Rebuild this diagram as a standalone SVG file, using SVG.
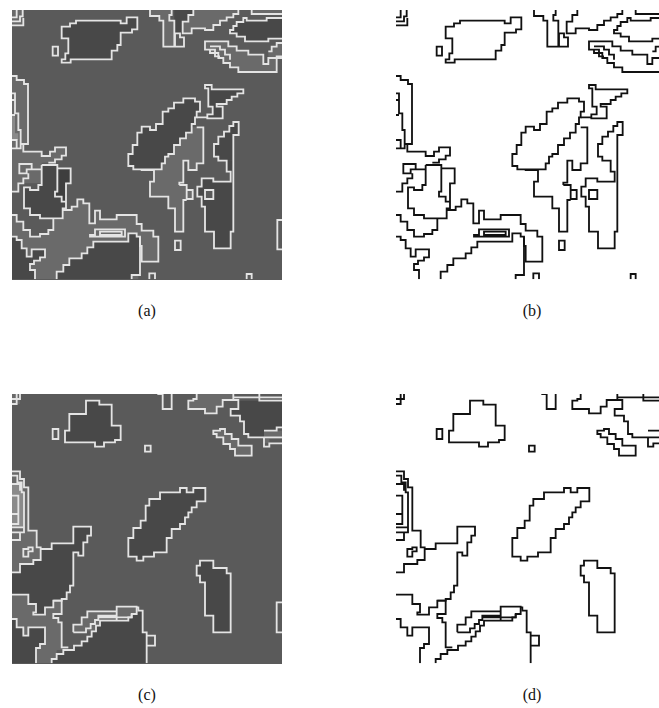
<svg xmlns="http://www.w3.org/2000/svg" width="659" height="708" viewBox="0 0 659 708">
<style>
.md{fill:#6a6a6a}
.lt{fill:#8a8a8a}
.bg{fill:#5a5a5a}
.dk{fill:#484848}
.dd{fill:#3e3e3e}
.wl{stroke:#e4e4e4;stroke-width:5.5;fill:none}
.kl{stroke:#111;stroke-width:5.5;fill:none}
text{font-family:"Liberation Serif","Times New Roman",serif;font-size:16px;text-anchor:middle;fill:#111}
</style>
<defs>
<clipPath id="clip"><rect x="36" y="30" width="810" height="808"/></clipPath>
<g id="a-fills">
<path class="md" d="M36 30H72V76H36Z"/>
<path class="dk" d="M185 80H210V70H228V62H362V70H380V52H412V88H396V98H362V135H352V152H335V178H212V188H185V178H196V160H205V115H185Z"/>
<path class="md" d="M425 510H462V545H450V590H505V625H525V695H550V600H580V570H560V555H538V548H550V482H565V510H590V490H610V382H575V398H540V435H505V470H485V508Z"/>
<path class="dk" d="M385 462H398V435H412V398H425V380H450V390H468V372H488V335H505V325H522V308H550V295H585V305H600V335H590V352H585V372H575V398H558V415H540V435H522V462H505V470H495V490H485V508H400V498H385Z"/>
<path class="dk" d="M615 255H635V268H730V280H712V290H695V300H680V312H650V320H668V355H622V343H638V320H625V265H615Z"/>
<path class="dk" d="M655 410H672V395H688V378H700V366H716V405H700V482H655V470H642V432H655Z"/>
<path class="dk" d="M605 535H640V545H692V515H680V482H700V695H692V745H642V695H615V620H605V590H592V560H605Z"/>
<path class="bg" d="M615 570H640V597H615Z"/>
<path class="md" d="M36 228H50V240H72V252H84V432H62V442H36Z"/>
<path class="lt" d="M36 345H45V400H55V420H36Z"/>
<path class="md" d="M36 445H62V432H70V455H125V468H150V455H165V442H198V467H185V478H165V488H125V550H55V575H36Z"/>
<path class="dk" d="M125 495H172V505H212V550H200V625H188V655H120V645H90V625H72V562H90V570H115V555H125Z"/>
<path class="dd" d="M178 510H208V545H198V605H185V590H165V575H178Z"/>
<path class="md" d="M58 492H95V508H80V520H58Z"/>
<path class="md" d="M36 645H50V665H70V690H90V710H120V702H145V690H160V660H188V630H215V620H232V598H250V610H268V670H285V632H300V658H350V645H410V672H425V692H460V710H475V785H425V738H415V838H105V810H90V792H36Z"/>
<path class="dk" d="M36 710H50V720H65V745H80V770H95V792H90V810H105V838H36Z"/>
<path class="dk" d="M95 748H135V772H120V782H102V792H95Z"/>
<path class="dk" d="M170 838V815H190V795H208V775H245V760H262V742H280V725H385V700H410V710H420V825H395V838Z"/>
<path class="md" d="M270 710V705H285V688H375V710Z"/>
<path class="md" d="M450 30V48H478V62H490V140H523V62H508V45H515V30Z"/>
<path class="dk" d="M523 30H580V45H565V65H548V100H523Z"/>
<path class="md" d="M548 100H575V85H615V90H640V75H660V62H680V52H700V42H715V30H580V45H565V65H548Z"/>
<path class="dk" d="M690 100V90H700V78H710V66H730V54H740V62H800V54H846V116H805V124H735V110H710V100Z"/>
<path class="md" d="M755 30V42H846V30Z"/>
<path class="md" d="M615 124H685V139H710V152H745V164H790V192H805V154H815V140H830V129H846V169H830V216H715V202H690V189H670V174H655V159H630V149H615Z"/>
</g>
<g id="a-lines">
<path d="M185 80H210V70H228V62H362V70H380V52H412V88H396V98H362V135H352V152H335V178H212V188H185V178H196V160H205V115H185Z"/>
<path d="M158 140H174V167H158Z"/>
<path d="M425 508V510H462V545H450V590H505V625H525V695H550V600H560M538 555V548H550V482H565V510H590V490H610V382H590"/>
<path d="M560 570H578V597H560ZM538 555H560V570"/>
<path d="M385 462H398V435H412V398H425V380H450V390H468V372H488V335H505V325H522V308H550V295H585V305H600V335H590V352H585V372H575V398H558V415H540V435H522V462H505V470H495V490H485V508H400V498H385Z"/>
<path d="M615 255H635V268H730V280H712V290H695V300H680V312H650V320H668V355H622V343H638V320H625V265H615ZM590 352H622"/>
<path d="M655 410H672V395H688V378H700V366H716V405H700V695H692V745H642V695H615V620H605V590H592V560H605V535H640V545H692V515H680V482H655V470H642V432H655Z"/>
<path d="M615 570H640V597H615Z"/>
<path d="M36 228H50V240H72V252H84V432H62V415M36 280H45V340H55V390H62V432H70V455H125V468H150V455H165V442H198V467H185V478H165V488H145M36 300H45M36 345H45M36 445H50V420H36M50 420V445H62V432"/>
<path d="M125 495H172V575H165V590H185V605H198V550H212V505H172M198 605V625H188V655H120V645H90V625H72V562H90V570H115V555H125V495"/>
<path d="M58 492H95V508H80V520H58ZM36 575H55V550H70V535H85V520M95 508H125"/>
<path d="M36 645H50V665H70V690H90V710H120V702H145V690H160V655"/>
<path d="M188 630H215V620H232V598H250V610H268V670H285V632H300V658H350V645H410V672H425V692H460V710H475V785H425V738H420V710H410V700H385V725H280V742H262V760H245V775H208V795H190V815H170V838"/>
<path d="M420 710V825H395V838"/>
<path d="M270 710V705H285V688H375V710ZM300 695H365V705H300Z"/>
<path d="M36 710H50V720H65V745H80V770H95V748H135V772H120V782H102V792H90V810H105V838"/>
<path d="M525 722H542V750H525Z"/>
<path d="M448 838V820H465V838M740 838V822H755V838M846 660H832V748H846"/>
<path d="M450 30V48H478V62H490V140H523V62H508V45H515V30M525 100H540V112H552V140H525Z"/>
<path d="M580 30V45H565V65H548V100H575V85H615V90H640V75H660V62H680V52H700V42H715V30"/>
<path d="M846 54H800V62H740V54H730V66H710V78H700V90H690V100H710V110H735V124H805V116H846M755 30V42H846"/>
<path d="M846 174H805V192H790V164H745V152H710V139H685V124H615V149H630V159H655V174H670V189H690V202H715V216H830V169H846M630 139H660V149H675V164H690V179M660 169H645V149H630M805 154H815V140H830V129H846"/>
<path d="M36 52H50V30M36 64H60V49H68V30M36 76H70V54"/>
</g>
<g id="c-fills">
<path class="md" d="M36 30H60V60H36Z"/>
<path class="dk" d="M208 90H258V50H298V62H335V125H362V168H345V175H312V188H285V175H195V140H208Z"/>
<path class="md" d="M565 75V50H580V45H590V30H700V48H668V68H650V88H615V75Z"/>
<path class="dk" d="M700 45H715V75H692V95H720V112H732V150H745V160H792V140H830V130H846V50H700Z"/>
<path class="md" d="M792 140H846V165H808V178H792Z"/>
<path class="md" d="M640 140H660V135H675V150H695V165H715V185H755V215H705V195H690V180H670V160H650V150H640Z"/>
<path class="dk" d="M385 462H400V432H422V410H437V365H448V345H480V325H540V312H560V325H580V312H616V352H590V370H575V385H565V400H555V420H540V435H515V462H500V505H462V518H430V530H410V518H385Z"/>
<path class="dk" d="M600 530H640V552H680V568H692V745H640V695H615V595H600V575H590V545H600Z"/>
<path class="md" d="M36 262H60V285H72V310H85V440H110V490H122V528H100V540H60V565H36Z"/>
<path class="lt" d="M36 300H60V320H72V430H36Z"/>
<path class="dk" d="M36 565H60V540H100V528H122V495H155V478H220V428H273V455H262V475H250V515H235V505H220V605H210V625H200V645H185V650H160V670H135V692H100V685H108V660H85V632H36Z"/>
<path class="md" d="M36 632H85V660H108V685H100V692H135V670H160V650H185V690H160V702H175V715H185V790H205V798H170V825H155V838H108V792H120V780H135V730H85V755H70V730H50V705H36Z"/>
<path class="dk" d="M36 705H50V730H70V755H85V730H135V780H120V792H108V838H36Z"/>
<path class="md" d="M220 745V722H245V700H262V682H350V668H410V690H395V700H350V710H300V725H288V742H262V745Z"/>
<path class="dk" d="M155 838V825H170V810H190V798H222V785H245V772H262V758H275V742H288V725H300V710H385V700H395V690H410V670H415V680H428V745H440V838Z"/>
</g>
<g id="c-lines">
<path d="M208 90H258V50H298V62H335V125H362V168H345V175H312V188H285V175H195V140H208Z"/>
<path d="M158 135H175V165H158Z"/>
<path d="M435 185H452V203H435Z"/>
<path d="M472 30H488V75H515V30"/>
<path d="M590 30V45H580V50H565V75H615V88H650V68H668V48H700V30M700 40H846M778 30V50H846"/>
<path d="M700 48H715V75H692V95H720V112H732V150H745V160H792V188H808V178H846M792 140H830V130H846M792 160H846"/>
<path d="M640 140H660V135H675V150H695V165H715V185H755V215H705V195H690V180H670V160H650V150H640Z"/>
<path d="M385 462H400V432H422V410H437V365H448V345H480V325H540V312H560V325H580V312H616V352H590V370H575V385H565V400H555V420H540V435H515V462H500V505H462V518H430V530H410V518H385Z"/>
<path d="M600 530H640V552H680V568H692V745H640V695H615V595H600V575H590V545H600Z"/>
<path d="M846 655H830V745H846"/>
<path d="M36 262H60V285H72V310H85V440H110V490H122V528H100V540H60V565H36"/>
<path d="M122 495H155V478H220V428H273V455H262V475H250V515H235V505H220V605H210V625H200V645H185V650H160V670H135V692H100V685H108V660H85V632H36"/>
<path d="M36 275H52V295H65V325H72V430H36M36 445H72V430M36 468H60V445M36 300H60V320M36 335H55V420H36M36 390H55"/>
<path d="M70 495H85V490H98V502H85V518H70Z"/>
<path d="M160 650H185V690H160V702H175V715H185V790H205"/>
<path d="M220 745V722H245V700H262V682H350V668H410V690H395V700H295M350 668V710M220 745H258V733H272V720H285V708H295V695H350"/>
<path d="M155 838V825H170V810H190V798H222V785H245V772H262V758H275V742H288V725H300V710H385V700H395V690M410 670H415V680H428V745H440V838"/>
<path d="M440 755H465V785H440"/>
<path d="M36 705H50V730H70V755H85V730H135V780H120V792H108V838"/>
<path d="M36 45H60V30M36 60H50V30"/>
</g>
</defs>
<g id="panel-a">
<rect x="12" y="10" width="270" height="270" fill="#5a5a5a"/>
<g transform="scale(.33333)" clip-path="url(#clip)"><use href="#a-fills"/><use href="#a-lines" class="wl"/></g>
</g>
<g id="panel-b">
<g transform="translate(384 0) scale(.33333)" clip-path="url(#clip)"><use href="#a-lines" class="kl"/></g>
</g>
<g id="panel-c">
<rect x="12" y="394" width="270" height="270" fill="#5a5a5a"/>
<g transform="translate(0 384) scale(.33333)" clip-path="url(#clip)"><use href="#c-fills"/><use href="#c-lines" class="wl"/></g>
</g>
<g id="panel-d">
<g transform="translate(384 384) scale(.33333)" clip-path="url(#clip)"><use href="#c-lines" class="kl"/></g>
</g>
<text x="147" y="316">(a)</text>
<text x="532" y="316">(b)</text>
<text x="147" y="700">(c)</text>
<text x="532" y="700">(d)</text>
</svg>
